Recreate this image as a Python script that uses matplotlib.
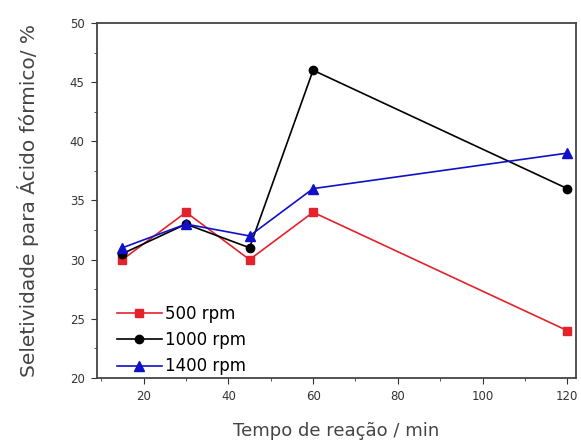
import matplotlib.pyplot as plt
from matplotlib.ticker import MultipleLocator

plt.rcParams['font.family'] = ['DejaVu Sans']

# dados
tempo = [15, 30, 45, 60, 120]
rpm500 = [30, 34, 30, 34, 24]
rpm1000 = [30.5, 33, 31, 46, 36]
rpm1400 = [31, 33, 32, 36, 39]

fig = plt.figure(figsize=(5.81, 4.41), dpi=100)
ax = fig.add_axes([0.167, 0.143, 0.824, 0.805])

ax.plot(tempo, rpm500, 's-', color='#e3222b', ms=6, lw=1.2, label='500 rpm')
ax.plot(tempo, rpm1000, 'o-', color='black', ms=6, lw=1.2, label='1000 rpm')
ax.plot(tempo, rpm1400, '^-', color='#1010c8', ms=7, lw=1.2, label='1400 rpm')

ax.set_xlim(9, 122)
ax.set_ylim(20, 50)
ax.xaxis.set_major_locator(MultipleLocator(20))
ax.xaxis.set_minor_locator(MultipleLocator(10))
ax.yaxis.set_major_locator(MultipleLocator(5))
ax.yaxis.set_minor_locator(MultipleLocator(2.5))
ax.tick_params(which='major', direction='out', length=4, labelsize=8.5, colors='#333333', pad=5)
ax.tick_params(which='minor', direction='out', length=2, colors='#333333')
for s in ax.spines.values():
    s.set_linewidth(1.3)
    s.set_color('#444444')

ax.set_xlabel('Tempo de reação / min', fontsize=13, color='#444444')
ax.set_ylabel('Seletividade para Ácido fórmico/ %', fontsize=14.5, color='#444444')
ax.xaxis.set_label_coords(0.5, -0.125)
ax.yaxis.set_label_coords(-0.122, 0.5)

ax.legend(loc='lower left', bbox_to_anchor=(0.01, -0.035), frameon=False, fontsize=12,
          handlelength=2.7, labelspacing=0.5, handletextpad=0.2)

fig.savefig('out.png')
